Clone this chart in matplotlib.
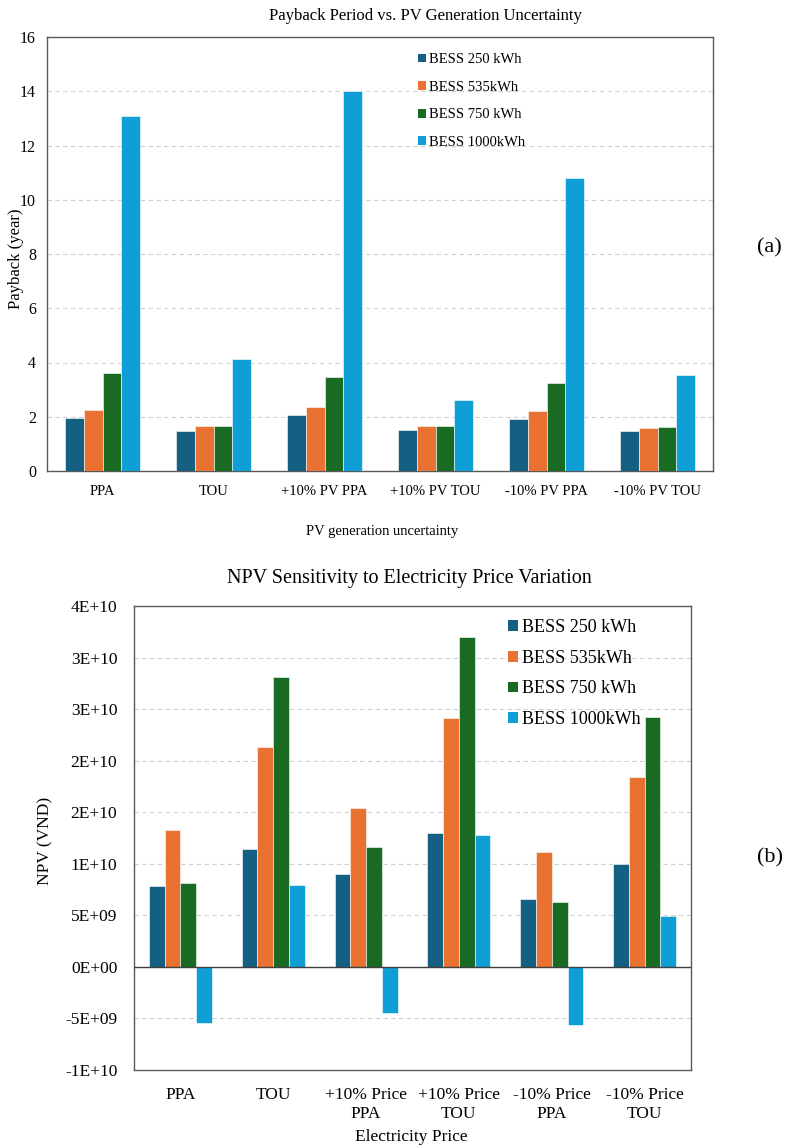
import numpy as np
import matplotlib
matplotlib.use("Agg")
import matplotlib.pyplot as plt
from matplotlib.patches import Patch

plt.rcParams['font.family'] = ['Liberation Serif', 'DejaVu Serif']

# --- datos ---
series = ["BESS 250 kWh", "BESS 535kWh", "BESS 750 kWh", "BESS 1000kWh"]
colors = ["#156082", "#E97132", "#196B24", "#0F9ED5"]

cats_a = ["PPA", "TOU", "+10% PV PPA", "+10% PV TOU", "-10% PV PPA", "-10% PV TOU"]
payback_250 = [1.97, 1.49, 2.08, 1.52, 1.93, 1.49]
payback_535 = [2.26, 1.65, 2.35, 1.65, 2.22, 1.60]
payback_750 = [3.62, 1.67, 3.48, 1.67, 3.26, 1.63]
payback_1000 = [13.1, 4.14, 14.0, 2.63, 10.8, 3.55]

cats_b = ["PPA", "TOU", "+10% Price\nPPA", "+10% Price\nTOU", "-10% Price\nPPA", "-10% Price\nTOU"]
npv_250 = [7.89e9, 11.39e9, 9.03e9, 12.94e9, 6.63e9, 9.96e9]
npv_535 = [13.23e9, 21.3e9, 15.44e9, 24.17e9, 11.17e9, 18.41e9]
npv_750 = [8.16e9, 28.09e9, 11.6e9, 32.0e9, 6.31e9, 24.27e9]
npv_1000 = [-5.41e9, 7.99e9, -4.5e9, 12.75e9, -5.63e9, 4.98e9]

npv_ticks = [-1e10, -5e9, 0, 5e9, 1e10, 1.5e10, 2e10, 2.5e10, 3e10, 3.5e10]
npv_ticklabels = ["-1E+10", "-5E+09", "0E+00", "5E+09", "1E+10", "2E+10", "2E+10", "3E+10", "3E+10", "4E+10"]

fig = plt.figure(figsize=(7.87, 11.47), dpi=100)
W, H = 787, 1147


def axes_px(left, top, right, bottom):
    return fig.add_axes([left / W, 1 - bottom / H, (right - left) / W, (bottom - top) / H])


def draw_bars(ax, data, width=0.17):
    x = np.arange(len(data[0]))
    for i, (vals, c) in enumerate(zip(data, colors)):
        ax.bar(x + (i - 1.5) * width, vals, width, color=c, edgecolor="white", linewidth=0.4, zorder=3)
    ax.set_xlim(-0.5, len(x) - 0.5)
    ax.set_xticks(x)
    ax.tick_params(length=0)
    ax.grid(axis="y", linestyle=(0, (4, 3)), color="#D0D0D0", linewidth=0.8, zorder=0)
    for s in ax.spines.values():
        s.set_color("#595959")
        s.set_linewidth(1.0)


# ---- (a) payback ----
ax1 = axes_px(47, 37, 713, 471)
draw_bars(ax1, [payback_250, payback_535, payback_750, payback_1000])
ax1.set_ylim(0, 16)
ax1.set_yticks(range(0, 17, 2))
ax1.set_xticklabels(cats_a, fontsize=10.5)
ax1.tick_params(axis="y", labelsize=11.5, pad=8)
ax1.tick_params(axis="x", pad=10)
ax1.set_ylabel("Payback (year)", fontsize=12)
ax1.yaxis.set_label_coords(-0.034, 0.49)
fig.text(382 / W, 1 - 532 / H, "PV generation uncertainty", fontsize=10.5, ha="center", va="center")
fig.text(425 / W, 1 - 16 / H, "Payback Period vs. PV Generation Uncertainty", fontsize=12, ha="center", va="center")
handles = [Patch(facecolor=c) for c in colors]
ax1.legend(handles, series, loc="upper left", bbox_to_anchor=(405 / W, 1 - 40 / H),
           bbox_transform=fig.transFigure, frameon=False, fontsize=10.5,
           handlelength=0.55, handleheight=0.55, handletextpad=0.2, labelspacing=1.0)
fig.text(757 / W, 1 - 248 / H, "(a)", fontsize=16, ha="left", va="center")

# ---- (b) NPV ----
ax2 = axes_px(134, 606, 691, 1070)
draw_bars(ax2, [npv_250, npv_535, npv_750, npv_1000])
ax2.set_ylim(-1e10, 3.5e10)
ax2.set_yticks(npv_ticks)
ax2.set_yticklabels(npv_ticklabels)
ax2.axhline(0, color="#404040", linewidth=1.0, zorder=4)
ax2.set_xticklabels(cats_b, fontsize=12.5, linespacing=1.3)
ax2.tick_params(axis="y", labelsize=12.5, pad=12)
ax2.tick_params(axis="x", pad=12)
ax2.set_ylabel("NPV (VND)", fontsize=12.5)
ax2.yaxis.set_label_coords(-0.145, 0.494)
fig.text(411 / W, 1 - 1137 / H, "Electricity Price", fontsize=12.5, ha="center", va="center")
fig.text(409 / W, 1 - 579 / H, "NPV Sensitivity to Electricity Price Variation", fontsize=14.5, ha="center", va="center")
ax2.legend(handles, series, loc="upper left", bbox_to_anchor=(492 / W, 1 - 603 / H),
           bbox_transform=fig.transFigure, frameon=False, fontsize=13,
           handlelength=0.55, handleheight=0.55, handletextpad=0.2, labelspacing=0.75)
fig.text(757 / W, 1 - 858 / H, "(b)", fontsize=16, ha="left", va="center")

fig.savefig("out.png", dpi=100)
